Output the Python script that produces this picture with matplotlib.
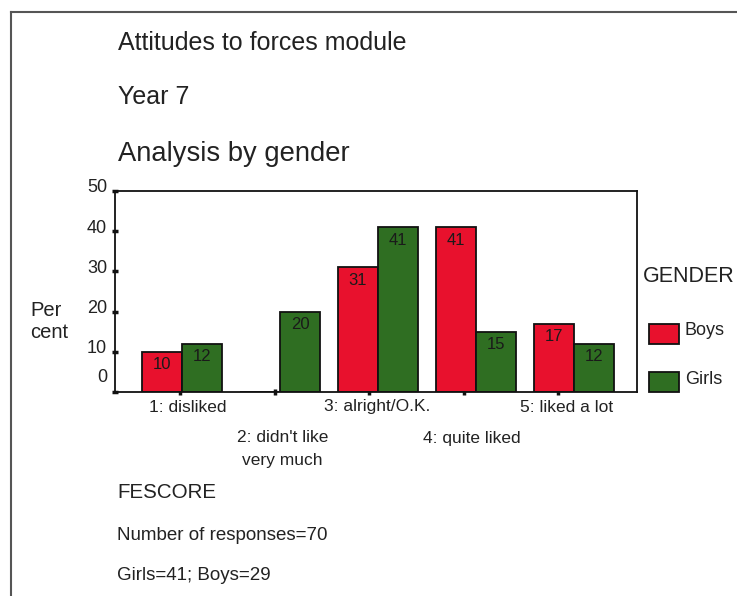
import matplotlib
matplotlib.use("Agg")
import matplotlib.pyplot as plt
from matplotlib.patches import Rectangle
from matplotlib.lines import Line2D

plt.rcParams['font.family'] = ['Liberation Sans', 'DejaVu Sans']

# FESCORE categories and percentages by gender
categories = ['1: disliked', "2: didn't like\nvery much", '3: alright/O.K.',
              '4: quite liked', '5: liked a lot']
boys = [10, 0, 31, 41, 17]
girls = [12, 20, 41, 15, 12]
yticks = [0, 10, 20, 30, 40, 50]

RED = '#e8112d'
GREEN = '#2f6e22'

W, H = 737, 596
fig = plt.figure(figsize=(W / 100, H / 100), dpi=100)


def fx(px):
    return px / W


def fy(py):
    return 1 - py / H


# plot area in pixel terms
ax = fig.add_axes([fx(115), fy(392), fx(637) - fx(115), fy(191) - fy(392)])

bw = 0.41
xs = list(range(len(categories)))
ax.bar([x - bw / 2 for x in xs], boys, width=bw, color=RED,
       edgecolor='#111111', linewidth=1.3, zorder=2)
ax.bar([x + bw / 2 for x in xs], girls, width=bw, color=GREEN,
       edgecolor='#111111', linewidth=1.3, zorder=2)

for x, v in zip(xs, boys):
    if v > 0:
        ax.annotate(str(v), (x - bw / 2, v), xytext=(0, -13),
                    textcoords='offset pixels', ha='center', va='center',
                    fontsize=12, color='#1a1a1a', zorder=3)
for x, v in zip(xs, girls):
    if v > 0:
        ax.annotate(str(v), (x + bw / 2, v), xytext=(0, -13),
                    textcoords='offset pixels', ha='center', va='center',
                    fontsize=12, color='#1a1a1a', zorder=3)

ax.set_xlim(-0.684, 4.643)
ax.set_ylim(0, 50)

for s in ax.spines.values():
    s.set_linewidth(1.3)
    s.set_color('#111111')

# the category axis runs on a slightly tighter step than the bars
tick_pos = [x * 0.965 - 0.02 for x in xs]

ax.set_yticks(yticks)
ax.set_yticklabels([])
ax.set_xticks(tick_pos)
ax.set_xticklabels([])
ax.tick_params(axis='both', direction='inout', length=4, width=2.5,
               color='#111111')

# y labels sit a little above their ticks, "0" noticeably so
for v in yticks:
    off = 14 if v == 0 else 3
    ax.annotate(str(v), (0, v), xycoords=('axes fraction', 'data'),
                xytext=(-8, off), textcoords='offset pixels',
                ha='right', va='center', fontsize=13, color='#222222')

# category labels staggered on two rows
for i, lab in enumerate(categories):
    dy = 15 if i % 2 == 0 else 46
    ax.annotate(lab.split('\n')[0], (tick_pos[i] + 0.08, 0),
                xytext=(0, -dy), textcoords='offset pixels',
                ha='center', va='center', fontsize=12.5, color='#222222')
    if '\n' in lab:
        ax.annotate(lab.split('\n')[1], (tick_pos[i] + 0.08, 0),
                    xytext=(0, -dy - 22), textcoords='offset pixels',
                    ha='center', va='center', fontsize=12.5, color='#222222')

tc = '#222222'
fig.text(fx(118), fy(43), 'Attitudes to forces module', fontsize=18,
         va='center', color=tc)
fig.text(fx(118), fy(97), 'Year 7', fontsize=18, va='center', color=tc)
fig.text(fx(118), fy(154), 'Analysis by gender', fontsize=19.7,
         va='center', color=tc)
fig.text(fx(30), fy(321), 'Per\ncent', fontsize=14.5, va='center',
         color=tc, linespacing=1.2)
fig.text(fx(643), fy(277), 'GENDER', fontsize=15.5, va='center', color=tc)

# legend drawn by hand
for y0, col, lab in [(324, RED, 'Boys'), (372, GREEN, 'Girls')]:
    fig.add_artist(Rectangle((fx(649), fy(y0 + 20)), fx(679) - fx(649),
                             fy(y0) - fy(y0 + 20), transform=fig.transFigure,
                             facecolor=col, edgecolor='#111111', lw=1.3))
    fig.text(fx(685), fy(y0 + 7), lab, fontsize=13, va='center', color=tc)

fig.text(fx(117), fy(492), 'FESCORE', fontsize=14.8, va='center', color=tc)
fig.text(fx(117), fy(536), 'Number of responses=70', fontsize=13.5,
         va='center', color=tc)
fig.text(fx(117), fy(576), 'Girls=41; Boys=29', fontsize=13.5,
         va='center', color=tc)

# outer frame (left and top edges)
fig.add_artist(Line2D([fx(11), fx(11)], [0, fy(12)], color='#555555',
                      lw=1.5, transform=fig.transFigure))
fig.add_artist(Line2D([fx(11), 1], [fy(12), fy(12)], color='#555555',
                      lw=1.5, transform=fig.transFigure))

fig.savefig('out.png', dpi=100)
